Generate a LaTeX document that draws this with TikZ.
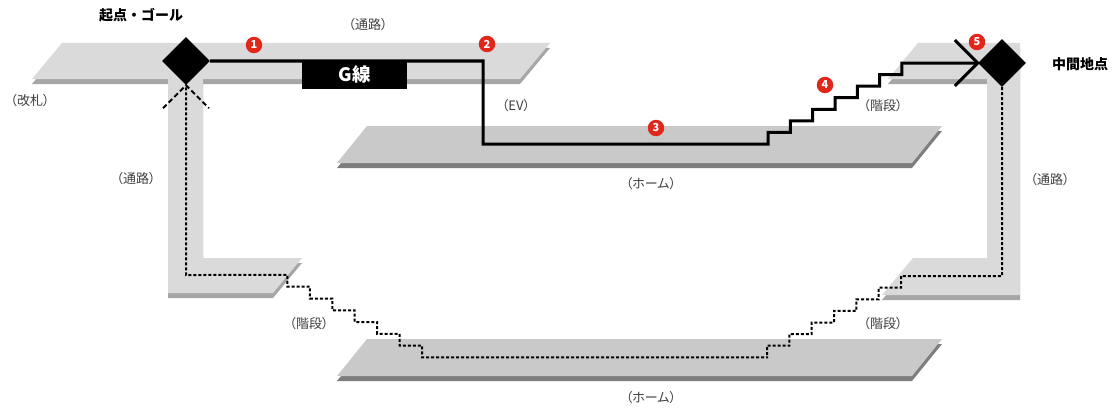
\documentclass[tikz,border=0pt]{standalone}
\usepackage{fontspec}
\setmainfont{Noto Sans CJK JP}
\newfontfamily\labelfont[RawFeature=+palt]{Noto Sans CJK JP}
\usetikzlibrary{shapes.geometric}

\definecolor{walkway}{HTML}{DADADA}
\definecolor{walkwayedge}{HTML}{A6A6A6}
\definecolor{platform}{HTML}{C9C9C9}
\definecolor{platformedge}{HTML}{7D7D7D}
\definecolor{labelgray}{HTML}{404040}
\definecolor{markred}{HTML}{E1261C}

\begin{document}
\begin{tikzpicture}[x=1pt,y=-1pt,
  lbl/.style={font=\labelfont\fontsize{13}{15}\selectfont, text=labelgray, inner sep=0pt},
  placename/.style={font=\bfseries\fontsize{14}{16}\selectfont, inner sep=0pt},
  badge/.style={circle, fill=markred, text=white, font=\bfseries\fontsize{11}{11}\selectfont,
                minimum size=16.5pt, inner sep=0pt},
  station/.style={diamond, fill=black, minimum size=48pt, inner sep=0pt},
  route/.style={line width=3pt, line join=miter},
  walkroute/.style={line width=2pt, dash pattern=on 3pt off 2pt},
  walkarrow/.style={line width=2pt, dash pattern=on 5pt off 3pt},
  slabedge/.style={yshift=-5pt},
]
\useasboundingbox (0,0) rectangle (1115,412);
\fill[white] (0,0) rectangle (1115,412);

% upper walkway (concourse)
\fill[walkwayedge, slabedge] (62,43) -- (550,43) -- (520,79) -- (32,79) -- cycle;
\fill[walkway] (62,43) -- (550,43) -- (520,79) -- (32,79) -- cycle;

% left passage with landing
\fill[walkwayedge, slabedge] (168,79) -- (203,79) -- (203,258) -- (302,258) -- (273,293) -- (168,293) -- cycle;
\fill[walkway] (168,79) -- (203,79) -- (203,258) -- (302,258) -- (273,293) -- (168,293) -- cycle;

% right landing, passage and lower landing
\fill[walkwayedge, slabedge] (918,43) -- (1020,43) -- (1020,295) -- (882,295) -- (913,258) -- (987,258) -- (987,79) -- (888,79) -- cycle;
\fill[walkway] (918,43) -- (1020,43) -- (1020,295) -- (882,295) -- (913,258) -- (987,258) -- (987,79) -- (888,79) -- cycle;

% platforms
\fill[platformedge, slabedge] (367,126) -- (942,126) -- (912,163) -- (337,163) -- cycle;
\fill[platform] (367,126) -- (942,126) -- (912,163) -- (337,163) -- cycle;
\fill[platformedge, slabedge] (367,339) -- (942,339) -- (912,376) -- (337,376) -- cycle;
\fill[platform] (367,339) -- (942,339) -- (912,376) -- (337,376) -- cycle;

% start / goal and midpoint
\node[station] (start) at (186,61) {};
\node[station] (mid) at (1002,63) {};

% corner points of the routes
\coordinate (evtop) at (483,61);
\coordinate (evbottom) at (483,144);
\coordinate (stairfoot) at (768,144);
\coordinate (passleft) at (186,275);
\coordinate (lowfootR) at (768,357.3);
\coordinate (passright) at (1002,276.1);

% outward route: G line, elevator, platform, stairs
\node[fill=black, text=white, font=\bfseries\fontsize{18.5}{18.5}\selectfont,
      minimum width=105pt, minimum height=29pt, inner sep=0pt] (gline) at (354.5,74.5) {G線};
\draw[route] (start.east) -- (evtop) -- (evbottom) -- (stairfoot)
  foreach \k in {1,...,6} { -- ++(0,-11.57) -- ++(22.33,0) } -- ++(0,-11.57) -- (mid.west);
\draw[route] (mid.west) ++(-23,-23) -- (mid.west) -- ++(-23,23);

% return route on foot
\draw[walkroute] (mid.south) -- (passright) -- ++(-101,0)
  foreach \k in {1,...,6} { -- ++(0,11.6) -- ++(-22.33,0) } -- ++(0,11.6) -- (lowfootR)
  -- ++(-346,0) foreach \k in {1,...,6} { -- ++(0,-11.76) -- ++(-22.42,0) } -- ++(0,-11.76)
  -- (passleft) -- (start.south);
\draw[walkarrow] (start.south) ++(-23,23) -- (start.south) -- ++(23,23);

% numbered markers
\node[badge] (n1) at (254,45) {1};
\node[badge] (n2) at (487,44) {2};
\node[badge] (n3) at (656,128) {3};
\node[badge] (n4) at (825,85) {4};
\node[badge] (n5) at (977,42) {5};

% labels
\node[placename] (tstart) at (141,15) {起点・ゴール};
\node[placename] (tmid) at (1080,64) {中間地点};
\node[lbl] (l1) at (368,25) {（通路）};
\node[lbl] (l2) at (30,101) {（改札）};
\node[lbl] (l3) at (516,106) {（EV）};
\node[lbl] (l4) at (883,106) {（階段）};
\node[lbl] (l5) at (651,184) {（ホーム）};
\node[lbl] (l6) at (136,179) {（通路）};
\node[lbl] (l7) at (1050,180) {（通路）};
\node[lbl] (l8) at (309,324) {（階段）};
\node[lbl] (l9) at (883,324) {（階段）};
\node[lbl] (l10) at (651,398) {（ホーム）};
\end{tikzpicture}
\end{document}
